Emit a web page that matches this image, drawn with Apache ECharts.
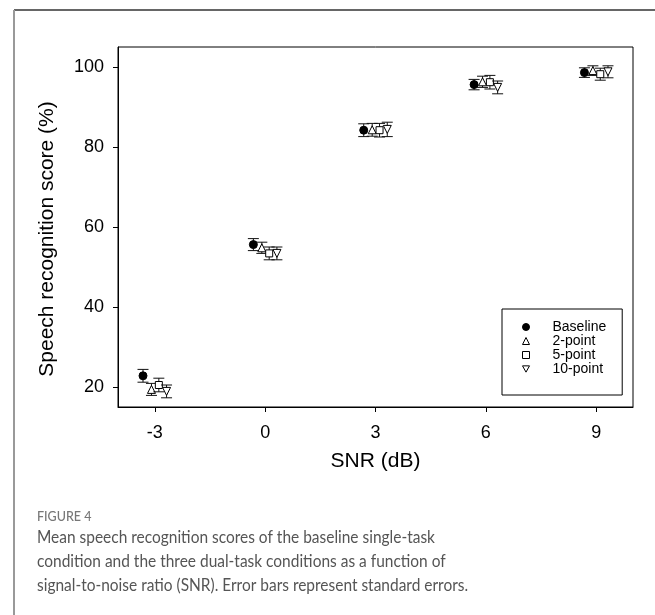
<!DOCTYPE html>
<html>
<head>
<meta charset="utf-8">
<script src="https://cdn.jsdelivr.net/npm/echarts@6/dist/echarts.min.js"></script>
<style>
html,body{margin:0;padding:0;background:#fff;}
#chart{width:655px;height:615px;}
</style>
</head>
<body>
<div id="chart"></div>
<script>
// ---- data ----
const snr = [-3, 0, 3, 6, 9];
const xTicks = [-3, 0, 3, 6, 9];
const yTicks = [20, 40, 60, 80, 100];
const seriesNames = ['Baseline', '2-point', '5-point', '10-point'];
const groupOffsets = [-0.32, -0.09, 0.11, 0.32];
const baseline = [22.8, 55.6, 84.2, 95.6, 98.6];
const baselineSE = [1.6, 1.5, 1.6, 1.3, 1.2];
const twoPoint = [19.4, 54.8, 84.3, 96.3, 99.1];
const twoPointSE = [1.5, 1.4, 1.6, 1.4, 1.2];
const fivePoint = [20.5, 53.4, 84.2, 96.2, 98.2];
const fivePointSE = [1.7, 1.6, 1.7, 1.7, 1.5];
const tenPoint = [18.9, 53.4, 84.4, 94.9, 98.8];
const tenPointSE = [1.6, 1.6, 1.8, 1.6, 1.5];
const captionTitle = 'FIGURE 4';
const captionLines = [
  'Mean speech recognition scores of the baseline single-task',
  'condition and the three dual-task conditions as a function of',
  'signal-to-noise ratio (SNR). Error bars represent standard errors.'
];

const means = [baseline, twoPoint, fivePoint, tenPoint];
const ses = [baselineSE, twoPointSE, fivePointSE, tenPointSE];
const symbols = ['circle', 'triangle', 'rect', 'path://M0,0 L10,0 L5,9 Z'];
const sizes = [8, 8, 7, 8];
const fills = ['#000', '#fff', '#fff', '#fff'];

const series = [];
means.forEach((m, i) => {
  const pts = snr.map((s, j) => [s + groupOffsets[i], m[j], ses[i][j]]);
  series.push({
    name: seriesNames[i] + ' SE',
    type: 'custom',
    z: 2 + i * 2,
    silent: true,
    data: pts,
    renderItem: function (params, api) {
      const x = api.value(0), y = api.value(1), e = api.value(2);
      const top = api.coord([x, y + e]);
      const bot = api.coord([x, y - e]);
      const w = 5.5;
      const st = { stroke: '#111', lineWidth: 1 };
      return {
        type: 'group',
        children: [
          { type: 'line', shape: { x1: top[0], y1: top[1], x2: bot[0], y2: bot[1] }, style: st },
          { type: 'line', shape: { x1: top[0] - w, y1: top[1], x2: top[0] + w, y2: top[1] }, style: st },
          { type: 'line', shape: { x1: bot[0] - w, y1: bot[1], x2: bot[0] + w, y2: bot[1] }, style: st }
        ]
      };
    }
  });
  series.push({
    name: seriesNames[i],
    type: 'scatter',
    z: 3 + i * 2,
    symbol: symbols[i],
    symbolSize: sizes[i],
    itemStyle: { color: fills[i], borderColor: '#000', borderWidth: 1, opacity: 1 },
    data: pts.map(p => [p[0], p[1]])
  });
});

const chart = echarts.init(document.getElementById('chart'), null, { renderer: 'canvas' });
const axisFont = '"Liberation Sans", Arial, sans-serif';
const capFont = 'Lato, "Open Sans", sans-serif';
chart.setOption({
  backgroundColor: '#fff',
  animation: false,
  grid: {
    left: 118, top: 47, right: 22, bottom: 208,
    show: true, borderColor: '#000', borderWidth: 1, backgroundColor: 'transparent'
  },
  xAxis: {
    type: 'value', min: -4, max: 10,
    name: 'SNR (dB)', nameLocation: 'middle', nameGap: 44,
    nameTextStyle: { fontFamily: axisFont, fontSize: 21, color: '#000' },
    axisLine: { show: true, onZero: false, lineStyle: { color: '#000', width: 1 } },
    axisTick: { show: true, length: 5, lineStyle: { color: '#000' }, customValues: xTicks },
    axisLabel: { fontFamily: axisFont, fontSize: 18, color: '#000', margin: 17, customValues: xTicks },
    splitLine: { show: false }
  },
  yAxis: {
    type: 'value', min: 15, max: 105,
    name: 'Speech recognition score (%)', nameLocation: 'middle', nameGap: 60,
    nameTextStyle: { fontFamily: axisFont, fontSize: 21, color: '#000', padding: [0, 24, 0, 0] },
    axisLine: { show: true, onZero: false, lineStyle: { color: '#000', width: 1 } },
    axisTick: { show: true, length: 5, lineStyle: { color: '#000' }, customValues: yTicks },
    axisLabel: { fontFamily: axisFont, fontSize: 18, color: '#000', margin: 14, customValues: yTicks },
    splitLine: { show: false }
  },
  legend: {
    data: seriesNames.map((n, i) => ({ name: n, icon: symbols[i] })),
    orient: 'vertical',
    left: 502, top: 309,
    padding: [11, 16, 19, 20],
    borderColor: '#000', borderWidth: 1,
    itemWidth: 7, itemHeight: 7, itemGap: 0,
    selectedMode: false,
    itemStyle: { borderColor: '#000', borderWidth: 1 },
    textStyle: { fontFamily: axisFont, fontSize: 14, color: '#000', lineHeight: 14, padding: [0, 0, 0, 18] }
  },
  graphic: [
    { type: 'line', shape: { x1: 14, y1: 10, x2: 655, y2: 10 }, style: { stroke: '#333', lineWidth: 1.5 } },
    { type: 'line', shape: { x1: 14, y1: 10, x2: 14, y2: 615 }, style: { stroke: '#999', lineWidth: 2 } },
    { type: 'text', x: 37, y: 510, style: { text: captionTitle, font: '500 12.5px ' + capFont, fill: '#777', verticalAlign: 'top' } },
    { type: 'text', x: 37, y: 529, scaleX: 0.91, style: { text: captionLines[0], font: '17px ' + capFont, fill: '#555', verticalAlign: 'top' } },
    { type: 'text', x: 37, y: 553, scaleX: 0.91, style: { text: captionLines[1], font: '17px ' + capFont, fill: '#555', verticalAlign: 'top' } },
    { type: 'text', x: 37, y: 577, scaleX: 0.91, style: { text: captionLines[2], font: '17px ' + capFont, fill: '#555', verticalAlign: 'top' } }
  ],
  series: series
});
</script>
</body>
</html>
